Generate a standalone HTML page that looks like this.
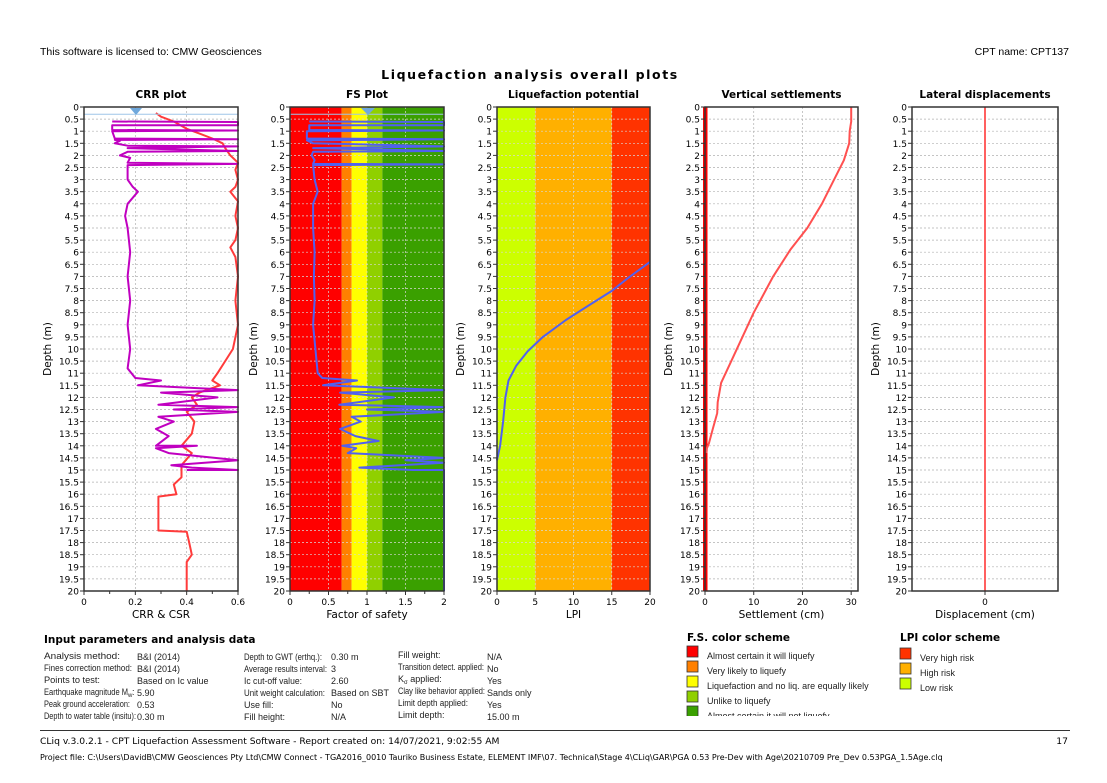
<!DOCTYPE html>
<html><head><meta charset="utf-8"><style>
body{margin:0;background:#fff;}
svg{display:block;font-family:"DejaVu Sans","Liberation Sans",sans-serif;}
.p text{font-family:"Liberation Sans",sans-serif;}
</style></head><body>
<svg id="s" width="1107" height="783" viewBox="0 0 1107 783" xmlns="http://www.w3.org/2000/svg">
<rect width="1107" height="783" fill="#fff"/>
<text x="40" y="55" font-size="10.5" font-family="Liberation Sans">This software is licensed to: CMW Geosciences</text>
<text x="1069" y="55" font-size="10.5" text-anchor="end" font-family="Liberation Sans">CPT name: CPT137</text>
<text x="530" y="79" font-size="12.5" font-weight="bold" text-anchor="middle" letter-spacing="1.6">Liquefaction analysis overall plots</text>
<g id="g"></g>
<g font-size="10">
<text x="44" y="643" font-weight="bold" font-size="10.5">Input parameters and analysis data</text>
<g class="p" font-size="9" fill="#222">
<text x="44" y="659" textLength="76" lengthAdjust="spacingAndGlyphs">Analysis method:</text>
<text x="44" y="671" textLength="88" lengthAdjust="spacingAndGlyphs">Fines correction method:</text>
<text x="44" y="683" textLength="56" lengthAdjust="spacingAndGlyphs">Points to test:</text>
<text x="44" y="695" textLength="84" lengthAdjust="spacingAndGlyphs">Earthquake magnitude M</text><text x="128" y="697" font-size="6">w</text><text x="132" y="695">:</text>
<text x="44" y="707" textLength="86" lengthAdjust="spacingAndGlyphs">Peak ground acceleration:</text>
<text x="44" y="719" textLength="92" lengthAdjust="spacingAndGlyphs">Depth to water table (insitu):</text>
<text x="137" y="660">B&amp;I (2014)</text><text x="137" y="672">B&amp;I (2014)</text><text x="137" y="684">Based on Ic value</text><text x="137" y="696">5.90</text><text x="137" y="708">0.53</text><text x="137" y="720">0.30 m</text>
<text x="244" y="660" textLength="78" lengthAdjust="spacingAndGlyphs">Depth to GWT (erthq.):</text>
<text x="244" y="672" textLength="83" lengthAdjust="spacingAndGlyphs">Average results interval:</text>
<text x="244" y="684" textLength="58" lengthAdjust="spacingAndGlyphs">Ic cut-off value:</text>
<text x="244" y="696" textLength="81" lengthAdjust="spacingAndGlyphs">Unit weight calculation:</text>
<text x="244" y="708">Use fill:</text><text x="244" y="720">Fill height:</text>
<text x="331" y="660">0.30 m</text><text x="331" y="672">3</text><text x="331" y="684">2.60</text><text x="331" y="696">Based on SBT</text><text x="331" y="708">No</text><text x="331" y="720">N/A</text>
<text x="398" y="658">Fill weight:</text>
<text x="398" y="670" textLength="86" lengthAdjust="spacingAndGlyphs">Transition detect. applied:</text>
<text x="398" y="682">K<tspan font-size="6" dy="2">σ</tspan><tspan dy="-2"> applied:</tspan></text>
<text x="398" y="694" textLength="87" lengthAdjust="spacingAndGlyphs">Clay like behavior applied:</text>
<text x="398" y="706" textLength="70" lengthAdjust="spacingAndGlyphs">Limit depth applied:</text>
<text x="398" y="718">Limit depth:</text>
<text x="487" y="660">N/A</text><text x="487" y="672">No</text><text x="487" y="684">Yes</text><text x="487" y="696">Sands only</text><text x="487" y="708">Yes</text><text x="487" y="720">15.00 m</text>
</g>
<text x="687" y="641" font-weight="bold" font-size="10.5">F.S. color scheme</text>
<text x="900" y="641" font-weight="bold" font-size="10.5">LPI color scheme</text>
<g stroke="#333" stroke-width="0.8">
<rect x="687" y="646" width="11" height="11" fill="#ff0000"/><rect x="687" y="661" width="11" height="11" fill="#ff8000"/><rect x="687" y="676" width="11" height="11" fill="#ffff00"/><rect x="687" y="691" width="11" height="11" fill="#90d000"/><rect x="687" y="706" width="11" height="11" fill="#3aa000"/>
<rect x="900" y="648" width="11" height="11" fill="#ff3300"/><rect x="900" y="663" width="11" height="11" fill="#ffb000"/><rect x="900" y="678" width="11" height="11" fill="#ccff00"/>
</g>
<g class="p" font-size="9" fill="#222">
<text x="707" y="659">Almost certain it will liquefy</text><text x="707" y="674">Very likely to liquefy</text><text x="707" y="689">Liquefaction and no liq. are equally likely</text><text x="707" y="704">Unlike to liquefy</text><text x="707" y="719">Almost certain it will not liquefy</text>
<text x="920" y="661">Very high risk</text><text x="920" y="676">High risk</text><text x="920" y="691">Low risk</text>
</g>
<rect x="680" y="716" width="400" height="12" fill="#fff"/>
<line x1="40" y1="730.5" x2="1070" y2="730.5" stroke="#333"/>
<text x="40" y="744" font-size="9.2">CLiq v.3.0.2.1 - CPT Liquefaction Assessment Software - Report created on: 14/07/2021, 9:02:55 AM</text>
<text x="1068" y="744" font-size="9.2" text-anchor="end">17</text>
<text x="40" y="760" font-size="8">Project file: C:\Users\DavidB\CMW Geosciences Pty Ltd\CMW Connect - TGA2016_0010 Tauriko Business Estate, ELEMENT IMF\07. Technical\Stage 4\CLiq\GAR\PGA 0.53 Pre-Dev with Age\20210709 Pre_Dev 0.53PGA_1.5Age.clq</text>
</g>
</svg>
<script>
var NS="http://www.w3.org/2000/svg",G=document.getElementById("g");
function el(t,a,txt){var e=document.createElementNS(NS,t);for(var k in a)e.setAttribute(k,a[k]);if(txt!=null)e.textContent=txt;G.appendChild(e);return e;}
var Y0=107,Y1=591;function Y(d){return Y0+d*(Y1-Y0)/20;}
var P=[
{x0:84,x1:238,t:"CRR plot",xl:"CRR & CSR",v0:0,v1:0.6,ticks:[[0,"0"],[0.2,"0.2"],[0.4,"0.4"],[0.6,"0.6"]],minor:[0.1,0.3,0.5]},
{x0:290,x1:444,t:"FS Plot",xl:"Factor of safety",v0:0,v1:2,ticks:[[0,"0"],[0.5,"0.5"],[1,"1"],[1.5,"1.5"],[2,"2"]],minor:[0.25,0.75,1.25,1.75]},
{x0:497,x1:650,t:"Liquefaction potential",xl:"LPI",v0:0,v1:20,ticks:[[0,"0"],[5,"5"],[10,"10"],[15,"15"],[20,"20"]],minor:[]},
{x0:705,x1:858,t:"Vertical settlements",xl:"Settlement (cm)",v0:0,v1:31.4,ticks:[[0,"0"],[10,"10"],[20,"20"],[30,"30"]],minor:[]},
{x0:912,x1:1058,t:"Lateral displacements",xl:"Displacement (cm)",v0:-1,v1:1,ticks:[[0,"0"]],minor:[]}];
function X(p,v){return p.x0+(v-p.v0)/(p.v1-p.v0)*(p.x1-p.x0);}
function line(p,pts,c,w){var s=pts.map(function(q){return X(p,q[0]).toFixed(1)+","+Y(q[1]).toFixed(1)}).join(" ");el("polyline",{points:s,fill:"none",stroke:c,"stroke-width":w,"stroke-linejoin":"round"});}
var fs=P[1];[[0,0.67,"#ff0000"],[0.67,0.8,"#ff8000"],[0.8,1,"#ffff00"],[1,1.2,"#90d000"],[1.2,2,"#3aa000"]].forEach(function(b){el("rect",{x:X(fs,b[0]),y:Y0,width:X(fs,b[1])-X(fs,b[0]),height:Y1-Y0,fill:b[2]});});
var lp=P[2];[[0,5,"#ccff00"],[5,15,"#ffb000"],[15,20,"#ff3300"]].forEach(function(b){el("rect",{x:X(lp,b[0]),y:Y0,width:X(lp,b[1])-X(lp,b[0]),height:Y1-Y0,fill:b[2]});});
P.forEach(function(p,i){
 var gc=(i==1||i==2)?"#d8d8d8":"#b0b0b0";
 for(var d=0.5;d<20;d+=0.5)el("line",{x1:p.x0,x2:p.x1,y1:Y(d),y2:Y(d),stroke:gc,"stroke-width":0.7,"stroke-dasharray":"2,2"});
 p.ticks.forEach(function(t){if(t[0]>p.v0&&t[0]<p.v1)el("line",{x1:X(p,t[0]),x2:X(p,t[0]),y1:Y0,y2:Y1,stroke:gc,"stroke-width":0.7,"stroke-dasharray":"2,2"});});
});
var crr=P[0];
var csr=[[0.28,0.25],[0.3,0.4],[0.35,0.6],[0.4,0.9],[0.45,1.1],[0.5,1.3],[0.54,1.5],[0.55,1.7],[0.57,2.0],[0.6,2.3],[0.59,2.6],[0.6,3],[0.59,3.3],[0.57,3.5],[0.6,3.9],[0.59,4.5],[0.6,5],[0.59,5.5],[0.57,5.8],[0.59,6.2],[0.6,7],[0.59,8],[0.6,9],[0.58,10],[0.55,10.5],[0.52,11],[0.5,11.3],[0.53,11.5],[0.45,11.8],[0.42,12],[0.44,12.3],[0.4,12.6],[0.43,13],[0.42,13.5],[0.38,14],[0.42,14.3],[0.38,14.8],[0.38,15.3],[0.35,15.6],[0.36,16],[0.29,16.1],[0.29,17.5],[0.4,17.55],[0.41,18],[0.42,18.5],[0.4,18.8],[0.4,20]];
var cr=[[0.11,0.6],[0.6,0.62],[0.6,0.75],[0.11,0.75],[0.11,0.95],[0.6,0.97],[0.11,1.0],[0.12,1.3],[0.6,1.33],[0.12,1.36],[0.14,1.4],[0.12,1.5],[0.17,1.6],[0.6,1.63],[0.17,1.7],[0.6,1.82],[0.17,1.85],[0.14,2.0],[0.18,2.1],[0.17,2.3],[0.6,2.35],[0.17,2.4],[0.17,3],[0.19,3.3],[0.21,3.5],[0.17,4],[0.16,4.5],[0.17,5],[0.18,6],[0.17,7],[0.18,8],[0.17,9],[0.18,10],[0.17,10.8],[0.2,11.2],[0.3,11.3],[0.21,11.5],[0.6,11.7],[0.3,11.8],[0.52,12],[0.29,12.3],[0.6,12.4],[0.35,12.5],[0.6,12.6],[0.29,12.8],[0.35,13],[0.28,13.3],[0.33,13.6],[0.28,14],[0.44,14],[0.28,14.1],[0.33,14.3],[0.6,14.6],[0.34,14.8],[0.42,14.9],[0.6,15],[0.4,15]];
line(crr,csr,"#ff3b3b",2);line(crr,cr,"#c000c0",2);
var fsd=[[0.25,0.6],[2,0.62],[2,0.75],[0.25,0.75],[0.25,0.95],[2,0.97],[0.22,1.0],[0.22,1.3],[2,1.33],[0.22,1.38],[0.3,1.5],[2,1.63],[0.3,1.7],[2,1.82],[0.3,1.85],[0.28,2.0],[0.32,2.2],[0.3,2.35],[2,2.37],[0.3,2.4],[0.32,3],[0.36,3.5],[0.3,4],[0.3,5],[0.32,6],[0.31,7],[0.32,8],[0.3,9],[0.33,10],[0.36,11],[0.42,11.2],[0.87,11.3],[0.43,11.5],[2,11.7],[0.65,11.8],[1.35,12],[0.64,12.3],[2,12.4],[1,12.5],[2,12.6],[0.8,12.8],[0.92,13],[0.65,13.3],[0.85,13.6],[1.15,13.8],[0.68,14],[0.86,14.1],[0.75,14.3],[2,14.5],[1.5,14.6],[2,14.7],[0.9,14.9],[1.6,15],[2,15],[2,20]];
line(fs,fsd,"#5060f0",2);
el("line",{x1:84,x2:238,y1:Y(0.3),y2:Y(0.3),stroke:"#9fc5e8","stroke-width":1});
el("line",{x1:290,x2:444,y1:Y(0.3),y2:Y(0.3),stroke:"#9fc5e8","stroke-width":1});
el("polygon",{points:"361,108 375,108 368,115",fill:"#6fa8dc"});
el("polygon",{points:"130,108 142,108 136,115",fill:"#6fa8dc"});
line(lp,[[20,6.4],[17,7.1],[15,7.6],[12,8.2],[9,8.8],[6,9.5],[4,10.1],[2.5,10.7],[1.5,11.3],[1.1,12],[0.8,13],[0.4,14],[0,14.6]],"#5060f0",2);
var se=P[3];
el("rect",{x:703,y:Y0,width:4.5,height:Y1-Y0,fill:"#ff0000"});
line(se,[[30,0],[30,0.6],[29.7,1],[29.6,1.5],[28.5,2.2],[26.5,3],[24,4],[21,5],[17.5,5.9],[14,7],[10,8.5],[5.5,10.45],[3.3,11.4],[2.6,12.2],[2.5,12.65],[1.6,13.3],[0.8,13.9],[0.4,14.1],[0.3,14.3]],"#ff5050",2);
el("line",{x1:985,x2:985,y1:Y0,y2:Y1,stroke:"#ff6060","stroke-width":2});
P.forEach(function(p){
 el("rect",{x:p.x0,y:Y0,width:p.x1-p.x0,height:Y1-Y0,fill:"none",stroke:"#333","stroke-width":1.5});
 el("text",{x:(p.x0+p.x1)/2,y:98,"font-size":"10.5","font-weight":"bold","text-anchor":"middle"},p.t);
 for(var d=0;d<=20;d+=0.5){var y=Y(d);el("line",{x1:p.x0-4,x2:p.x0,y1:y,y2:y,stroke:"#333"});el("text",{x:p.x0-5,y:y+3.5,"font-size":"9","text-anchor":"end"},String(d));}
 p.ticks.forEach(function(t){var x=X(p,t[0]);el("line",{x1:x,x2:x,y1:Y1,y2:Y1+4,stroke:"#333"});el("text",{x:x,y:605,"font-size":"9","text-anchor":"middle"},t[1]);});
 p.minor.forEach(function(v){var x=X(p,v);el("line",{x1:x,x2:x,y1:Y1,y2:Y1+3,stroke:"#333"});});
 el("text",{x:(p.x0+p.x1)/2,y:618,"font-size":"10.5","text-anchor":"middle"},p.xl);
 el("text",{x:0,y:0,"font-size":"10.5","text-anchor":"middle",transform:"translate("+(p.x0-33)+","+((Y0+Y1)/2)+") rotate(-90)"},"Depth (m)");
});
</script>
</body></html>
